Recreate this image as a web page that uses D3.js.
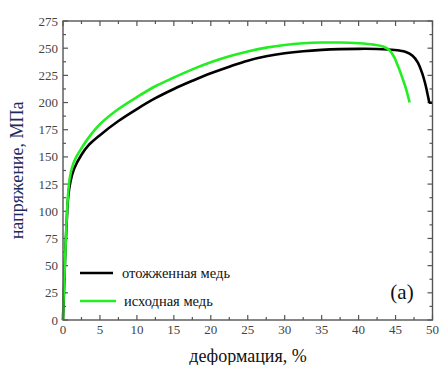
<!DOCTYPE html>
<html>
<head>
<meta charset="utf-8">
<script src="https://cdn.jsdelivr.net/npm/d3@7"></script>
<style>
  html, body { margin: 0; padding: 0; background: #fff; }
  svg { display: block; }
</style>
</head>
<body>
<svg id="chart" width="439" height="365"></svg>
<script>
// annealed copper (black)
const annealedStrain = [0, 0.15, 0.3, 0.5, 0.7, 1.0, 1.5, 2.5, 3.5, 5, 7.5, 10, 12.5, 15, 17.5, 20, 22.5, 25, 27.5, 30, 32.5, 35, 37.5, 40, 42.5, 44, 45.5, 46.4, 47.3, 48, 48.6, 49.1, 49.45, 49.6, 50];
const annealedStress = [0, 30, 60, 90, 113, 127, 139, 152, 161, 170, 183, 194, 204, 212.5, 220, 227, 233, 238.5, 242.5, 245.3, 247.2, 248.4, 249.1, 249.4, 249.3, 248.8, 247.8, 246.5, 243, 237, 227, 215, 204, 200, 200];

// initial copper (green)
const initialStrain = [0, 0.05, 0.25, 0.45, 0.65, 0.9, 1.3, 1.8, 2.5, 3.5, 5, 7.5, 10, 12.5, 15, 17.5, 20, 22.5, 25, 27.5, 30, 32.5, 35, 37.5, 40, 42, 43.3, 44.2, 44.8, 45.3, 45.8, 46.4, 46.9];
const initialStress = [0, 15, 50, 85, 112, 130, 142, 150, 158, 168, 180, 194, 205, 215, 223, 230.5, 237, 242.5, 247, 250.5, 253, 254.5, 255.2, 255.2, 254.5, 253.3, 251.5, 248, 242, 234, 225, 213, 200];

const xTicks = [0, 5, 10, 15, 20, 25, 30, 35, 40, 45, 50];
const yTicks = [0, 25, 50, 75, 100, 125, 150, 175, 200, 225, 250, 275];
const seriesNames = ['отожженная медь', 'исходная медь'];

const SERIF = '"Liberation Serif", "DejaVu Serif", serif';
const FRAME = '#555';

const svg = d3.select('#chart');
const plot = { left: 63, right: 432.5, top: 21, bottom: 320 };

const x = d3.scaleLinear().domain([0, 50]).range([plot.left, plot.right]);
const y = d3.scaleLinear().domain([0, 275]).range([plot.bottom, plot.top]);

// minor ticks halfway between majors
const xMinor = d3.range(2.5, 50, 5);
const yMinor = d3.range(12.5, 275, 25);

const g = svg.append('g');

// inward ticks on all four sides
function ticks(vals, len) {
  g.selectAll(null).data(vals).join('line')
    .attr('x1', d => x(d)).attr('x2', d => x(d))
    .attr('y1', plot.bottom).attr('y2', plot.bottom - len)
    .attr('stroke', FRAME).attr('stroke-width', 1.2);
  g.selectAll(null).data(vals).join('line')
    .attr('x1', d => x(d)).attr('x2', d => x(d))
    .attr('y1', plot.top).attr('y2', plot.top + len)
    .attr('stroke', FRAME).attr('stroke-width', 1.2);
}
function yticks(vals, len) {
  g.selectAll(null).data(vals).join('line')
    .attr('y1', d => y(d)).attr('y2', d => y(d))
    .attr('x1', plot.left).attr('x2', plot.left + len)
    .attr('stroke', FRAME).attr('stroke-width', 1.2);
  g.selectAll(null).data(vals).join('line')
    .attr('y1', d => y(d)).attr('y2', d => y(d))
    .attr('x1', plot.right).attr('x2', plot.right - len)
    .attr('stroke', FRAME).attr('stroke-width', 1.2);
}
ticks(xTicks, 5);
ticks(xMinor, 3);
yticks(yTicks, 5);
yticks(yMinor, 3);

// tick labels
g.selectAll('text.xl').data(xTicks).join('text')
  .attr('class', 'xl')
  .attr('x', d => x(d)).attr('y', plot.bottom + 14)
  .attr('text-anchor', 'middle')
  .attr('font-family', SERIF).attr('font-size', 13)
  .attr('fill', '#444')
  .text(d => d);

g.selectAll('text.yl').data(yTicks).join('text')
  .attr('class', 'yl')
  .attr('x', plot.left - 5).attr('y', d => y(d) + 4.5)
  .attr('text-anchor', 'end')
  .attr('font-family', SERIF).attr('font-size', 13)
  .attr('fill', '#444')
  .text(d => d);

// curves
const line = d3.line().x(d => x(d[0])).y(d => y(d[1])).curve(d3.curveCatmullRom.alpha(0.5));

const annealed = d3.zip(annealedStrain, annealedStress);
const initial = d3.zip(initialStrain, initialStress);

svg.append('path').datum(annealed)
  .attr('d', line)
  .attr('fill', 'none').attr('stroke', '#000').attr('stroke-width', 2.6);

svg.append('path').datum(initial)
  .attr('d', line)
  .attr('fill', 'none').attr('stroke', '#22ee22').attr('stroke-width', 2.6);

// frame on top
svg.append('rect')
  .attr('x', plot.left).attr('y', plot.top)
  .attr('width', plot.right - plot.left).attr('height', plot.bottom - plot.top)
  .attr('fill', 'none').attr('stroke', FRAME).attr('stroke-width', 1.4);

// legend
const legend = svg.append('g');
const legendRows = [
  { name: seriesNames[0], color: '#000', y: 273, x2: 113, tx: 122 },
  { name: seriesNames[1], color: '#22ee22', y: 301, x2: 116, tx: 124 }
];
legendRows.forEach(r => {
  legend.append('line')
    .attr('x1', 80).attr('x2', r.x2).attr('y1', r.y).attr('y2', r.y)
    .attr('stroke', r.color).attr('stroke-width', 2.6);
  legend.append('text')
    .attr('x', r.tx).attr('y', r.y + 4.5)
    .attr('font-family', SERIF).attr('font-size', 14.5)
    .attr('fill', '#111')
    .text(r.name);
});

svg.append('text')
  .attr('x', 402).attr('y', 299)
  .attr('text-anchor', 'middle')
  .attr('font-family', SERIF).attr('font-size', 21)
  .attr('fill', '#111')
  .text('(a)');

// axis titles
svg.append('text')
  .attr('transform', `translate(23, ${(plot.top + plot.bottom) / 2}) rotate(-90)`)
  .attr('text-anchor', 'middle')
  .attr('font-family', SERIF).attr('font-size', 18)
  .attr('fill', '#1c2a5c')
  .text('напряжение, МПа');

svg.append('text')
  .attr('x', 248).attr('y', 362)
  .attr('text-anchor', 'middle')
  .attr('font-family', SERIF).attr('font-size', 18)
  .attr('fill', '#111')
  .text('деформация, %');
</script>
</body>
</html>
